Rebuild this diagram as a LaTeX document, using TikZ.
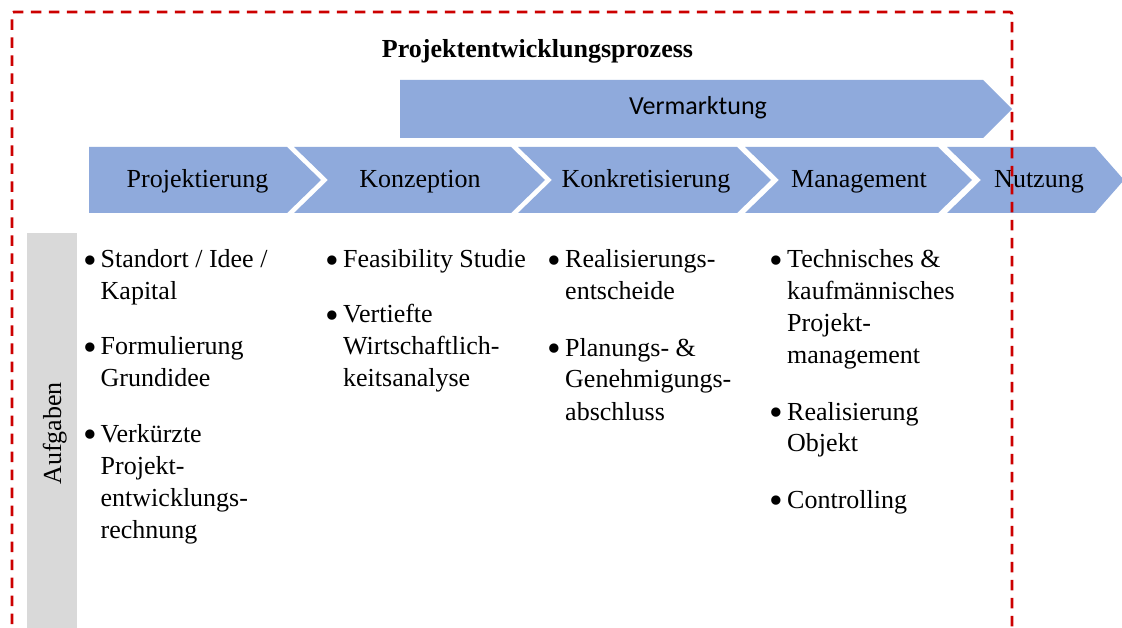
\documentclass[tikz,border=0pt]{standalone}
\usepackage{fontspec}
\setmainfont{Liberation Serif}
\newfontfamily\calibrifont{Carlito}
\definecolor{chev}{RGB}{143,170,220}
\definecolor{graybar}{RGB}{217,217,217}
\definecolor{dashred}{RGB}{204,0,0}
\newcommand\bulitem[1]{\makebox[17.5pt][l]{\raisebox{-5.5pt}{\scalebox{1.5}{\textbullet}}}\parbox[t]{260pt}{\raggedright #1}}
\begin{document}
\begin{tikzpicture}[x=1pt,y=-1pt,
  chevron/.style={fill=chev, draw=none},
  bodyfont/.style={font=\fontsize{26}{32}\selectfont},
  phase/.style={bodyfont, inner sep=0pt, anchor=base},
  itm/.style={bodyfont, inner sep=0pt, anchor=base west},
  frame/.style={draw=dashred, line width=2.8pt, dash pattern=on 10.5pt off 7.5pt, rounded corners=2pt}]
\clip (0,0) rectangle (1122,628);
\fill[white] (0,0) rectangle (1122,628);
% gray side bar
\fill[graybar] (27,233) rectangle (77,640);
\node[phase, rotate=90] (aufg) at (61,433.5) {Aufgaben};
% title
\node[phase, font=\fontsize{26}{32}\selectfont\bfseries] (title) at (537.5,58) {Projektentwicklungsprozess};
% Vermarktung arrow
\fill[chevron] (400,80) -- (983,80) -- (1012,109) -- (983,138) -- (400,138) -- cycle;
\node[phase, font=\fontsize{26}{32}\calibrifont] (verm) at (698,115) {Vermarktung};
% phase chevrons
\fill[chevron] (89,147) -- (287,147) -- (321,180) -- (287,213) -- (89,213) -- cycle;
\fill[chevron] (294,147) -- (511,147) -- (545,180) -- (511,213) -- (294,213) -- (328,180) -- cycle;
\fill[chevron] (518,147) -- (737,147) -- (771,180) -- (737,213) -- (518,213) -- (552,180) -- cycle;
\fill[chevron] (745,147) -- (938,147) -- (972,180) -- (938,213) -- (745,213) -- (779,180) -- cycle;
\fill[chevron] (947,147) -- (1095,147) -- (1124,180) -- (1095,213) -- (947,213) -- (981,180) -- cycle;
\node[phase] (p1) at (197.5,188) {Projektierung};
\node[phase] (p2) at (420,188) {Konzeption};
\node[phase] (p3) at (646,188) {Konkretisierung};
\node[phase] (p4) at (859,188) {Management};
\node[phase] (p5) at (1039,188) {Nutzung};
% column 1
\node[itm] (a1) at (83,268) {\bulitem{Standort / Idee /\\Kapital}};
\node[itm] (a2) at (83,355) {\bulitem{Formulierung\\Grundidee}};
\node[itm] (a3) at (83,442) {\bulitem{Verkürzte\\Projekt-\\entwicklungs-\\rechnung}};
% column 2
\node[itm] (b1) at (325.5,268) {\bulitem{Feasibility Studie}};
\node[itm] (b2) at (325.5,323) {\bulitem{Vertiefte\\Wirtschaftlich-\\keitsanalyse}};
% column 3
\node[itm] (c1) at (547.5,268) {\bulitem{Realisierungs-\\entscheide}};
\node[itm] (c2) at (547.5,356) {\bulitem{Planungs- \&\\Genehmigungs-\\abschluss}};
% column 4
\node[itm] (d1) at (769.5,268) {\bulitem{Technisches \&\\kaufmännisches\\Projekt-\\management}};
\node[itm] (d2) at (769.5,420) {\bulitem{Realisierung\\Objekt}};
\node[itm] (d3) at (769.5,508) {\bulitem{Controlling}};
% dashed frame
\draw[frame] (12,660) -- (12,12) -- (1012,12) -- (1012,660);
\end{tikzpicture}
\end{document}
